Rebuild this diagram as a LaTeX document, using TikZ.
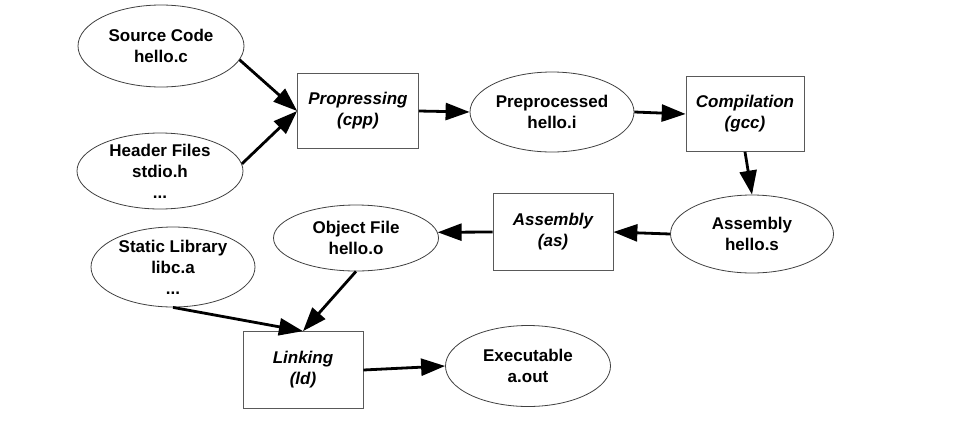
\documentclass[tikz,border=0pt]{standalone}
\usepackage{fontspec}
\setmainfont{Liberation Sans}
\usetikzlibrary{shapes.geometric,arrows.meta}
\begin{document}
\begin{tikzpicture}[x=1pt,y=-1pt,
  ell/.style={draw=black!75, line width=0.8pt, ellipse, inner sep=0pt},
  lab/.style={font=\fontsize{17}{21}\selectfont\bfseries, align=center, inner sep=0pt},
  box/.style={draw=black!65, line width=0.7pt, inner sep=0pt,
    font=\fontsize{17}{21}\selectfont\bfseries\itshape, align=center},
  arr/.style={line width=2.8pt, -{Triangle[length=24pt,width=17pt]}}]
\useasboundingbox (0,0) rectangle (955,429);
% ellipses
\node[ell, minimum width=166pt, minimum height=82pt,
  label={[lab]center:{Source Code\\hello.c}}] (src) at (161,46) {};
\node[ell, minimum width=166pt, minimum height=76pt,
  label={[lab]center:{Header Files\\stdio.h\\...}}] (hdr) at (160,171) {};
\node[ell, minimum width=164pt, minimum height=80pt,
  label={[lab]center:{Preprocessed\\hello.i}}] (pre) at (552,112) {};
\node[ell, minimum width=163pt, minimum height=78pt,
  label={[lab]center:{Assembly\\hello.s}}] (hs) at (752,234) {};
\node[ell, minimum width=165pt, minimum height=66pt,
  label={[lab]center:{Object File\\hello.o}}] (obj) at (356,238) {};
\node[ell, minimum width=164pt, minimum height=80pt,
  label={[lab]center:{Static Library\\libc.a\\...}}] (lib) at (173,267) {};
\node[ell, minimum width=165pt, minimum height=81pt,
  label={[lab]center:{Executable\\a.out}}] (exe) at (528,366) {};
% boxes
\node[box, minimum width=121pt, minimum height=75pt] (cpp) at (358,111) {Propressing\\(cpp)};
\node[box, minimum width=118pt, minimum height=75pt] (gcc) at (745,114) {Compilation\\(gcc)};
\node[box, minimum width=120pt, minimum height=77pt] (as) at (553,232) {Assembly\\(as)};
\node[box, minimum width=120pt, minimum height=77pt] (ld) at (303,370) {Linking\\(ld)};
% arrows
\draw[arr] (src.-10) -- (cpp.west);
\draw[arr] (hdr.5) -- (cpp.west);
\draw[arr] (cpp.east) -- (pre.west);
\draw[arr] (pre.east) -- (gcc.west);
\draw[arr] (gcc.south) -- (hs.north);
\draw[arr] (hs.west) -- (as.east);
\draw[arr] (as.west) -- (obj.4);
\draw[arr] (obj.south) -- (ld.north);
\draw[arr] (lib.south) -- (ld.north);
\draw[arr] (ld.east) -- (exe.west);
\end{tikzpicture}
\end{document}
